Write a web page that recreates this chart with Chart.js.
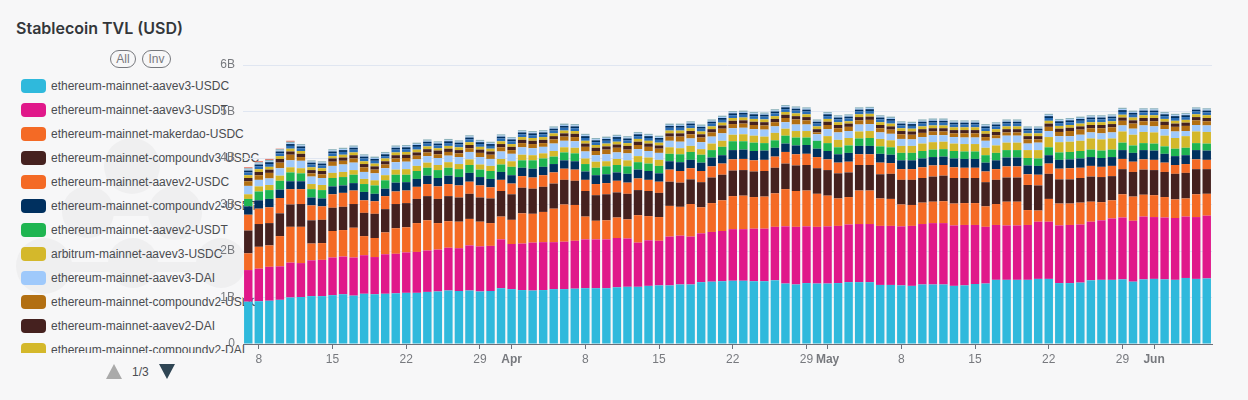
<!DOCTYPE html>
<html>
<head>
<meta charset="utf-8">
<script src="https://cdn.jsdelivr.net/npm/chart.js@4/dist/chart.umd.min.js"></script>
<style>
  html, body { margin: 0; padding: 0; background: #f7f7f8; }
  body { width: 1248px; height: 400px; position: relative; overflow: hidden; font-family: "Liberation Sans", sans-serif; }
  #title { position: absolute; left: 16px; top: 18px; font-family: Inter, sans-serif; font-size: 16px; font-weight: 600; color: #33363a; }
  #myChart { position: absolute; left: 0; top: 0; }
  .dot { position: absolute; border-radius: 50%; background: #efeff0; }
  .bar { position: absolute; background: #efeff0; }
  .pill { position: absolute; top: 50px; height: 16px; line-height: 16px; border: 1px solid #77797e; border-radius: 9px; font-size: 12px; color: #77797e; text-align: center; box-sizing: content-box; }
  #legend { position: absolute; left: 21px; top: 74px; width: 260px; height: 279px; overflow: hidden; }
  .item { height: 24px; display: flex; align-items: center; font-size: 12px; color: #4a4c50; white-space: nowrap; }
  .swatch { width: 25px; height: 14px; border-radius: 4px; margin-right: 5px; flex: none; }
  .up { position: absolute; left: 106px; top: 364px; border-left: 8px solid transparent; border-right: 8px solid transparent; border-bottom: 15px solid #aaaaaa; }
  .down { position: absolute; left: 159px; top: 364px; border-left: 8px solid transparent; border-right: 8px solid transparent; border-top: 15px solid #2f4554; }
  .page { position: absolute; left: 132px; top: 365px; font-size: 12px; color: #4a4c50; }
</style>
</head>
<body>
<div class="dot" style="left:104px;top:138px;width:56px;height:56px"></div>
<div class="dot" style="left:62px;top:186px;width:52px;height:52px"></div>
<div class="dot" style="left:148px;top:186px;width:54px;height:54px"></div>
<div class="dot" style="left:16px;top:238px;width:56px;height:56px"></div>
<div class="dot" style="left:108px;top:238px;width:50px;height:50px"></div>
<div class="dot" style="left:196px;top:238px;width:50px;height:50px"></div>
<div class="bar" style="left:60px;top:262px;width:160px;height:10px"></div>
<div class="bar" style="left:88px;top:206px;width:90px;height:10px"></div>
<div id="title">Stablecoin TVL (USD)</div>
<div class="pill" style="left:110px;width:24px">All</div>
<div class="pill" style="left:142px;width:27px">Inv</div>
<div id="legend"></div>
<div class="up"></div><div class="page">1/3</div><div class="down"></div>
<canvas id="myChart" width="1248" height="400"></canvas>
<script>
// dias desde el 7 de marzo hasta el 6 de junio
const categories = [
  '7','8','9','10','11','12','13','14','15','16','17','18','19','20','21','22','23','24','25','26','27','28','29','30','31',
  'Apr','2','3','4','5','6','7','8','9','10','11','12','13','14','15','16','17','18','19','20','21','22','23','24','25','26','27','28','29','30',
  'May','2','3','4','5','6','7','8','9','10','11','12','13','14','15','16','17','18','19','20','21','22','23','24','25','26','27','28','29','30','31',
  'Jun','2','3','4','5','6'
];
const shownTicks = ['8','15','22','29','Apr','May','Jun'];
const yTicks = ['0','1B','2B','3B','4B','5B','6B'];

const seriesNames = [
  'ethereum-mainnet-aavev3-USDC','ethereum-mainnet-aavev3-USDT','ethereum-mainnet-makerdao-USDC',
  'ethereum-mainnet-compoundv3-USDC','ethereum-mainnet-aavev2-USDC','ethereum-mainnet-compoundv2-USDT',
  'ethereum-mainnet-aavev2-USDT','arbitrum-mainnet-aavev3-USDC','ethereum-mainnet-aavev3-DAI',
  'ethereum-mainnet-compoundv2-USDC','ethereum-mainnet-aavev2-DAI','ethereum-mainnet-compoundv2-DAI',
  'page2-a','page2-b','page2-c','page2-d','page2-e'
];
const seriesColors = [
  '#2fb9dc','#e0188a','#f46a25','#45211f','#f46a25','#00305f','#1fb551','#d4b82b','#9fc9fb',
  '#b26f12','#45211f','#d4b82b','#2a6db5','#00305f','#9fc9fb','#8db3bc','#e8604c'
];

// valores en miles de millones
const aaveV3Usdc = [
  .91,.92,.93,.95,1.00,1.01,1.03,1.03,1.05,1.07,1.04,1.08,1.07,1.08,1.09,
  1.10,1.10,1.12,1.13,1.15,1.14,1.15,1.13,1.14,1.20,1.18,1.16,1.15,1.16,1.18,
  1.18,1.19,1.20,1.20,1.20,1.22,1.23,1.23,1.25,1.26,1.26,1.28,1.28,1.33,1.34,
  1.35,1.36,1.36,1.35,1.35,1.37,1.30,1.28,1.31,1.30,1.30,1.31,1.33,1.33,1.33,
  1.27,1.27,1.26,1.25,1.28,1.28,1.28,1.25,1.26,1.29,1.30,1.38,1.38,1.38,1.38,1.40,
  1.40,1.31,1.31,1.32,1.37,1.38,1.38,1.39,1.34,1.39,1.40,1.39,1.38,1.42,1.40,1.41
];
const aaveV3Usdt = [
  .68,.70,.73,.72,.75,.73,.77,.78,.81,.81,.82,.83,.80,.85,.85,
  .87,.88,.89,.90,.92,.92,.97,.97,.97,1.05,.97,1.00,1.03,1.03,1.01,
  1.02,1.03,1.05,1.05,1.05,1.06,1.04,.95,.98,.96,1.05,1.05,1.03,1.05,1.07,
  1.08,1.11,1.11,1.13,1.13,1.15,1.23,1.24,1.22,1.22,1.23,1.23,1.24,1.25,1.25,
  1.27,1.27,1.27,1.29,1.30,1.32,1.32,1.30,1.30,1.27,1.22,1.18,1.17,1.17,1.18,1.23,
  1.23,1.24,1.25,1.25,1.26,1.28,1.32,1.33,1.31,1.35,1.33,1.33,1.33,1.32,1.33,1.35
];
const makerUsdc = [
  .36,.47,.46,.65,.77,.78,.36,.36,.57,.57,.64,.41,.41,.47,.55,
  .54,.62,.65,.57,.57,.57,.57,.53,.49,.49,.52,.65,.62,.65,.72,
  .80,.77,.49,.40,.41,.44,.41,.59,.52,.51,.66,.62,.70,.56,.62,
  .66,.71,.72,.68,.69,.72,.80,.77,.77,.71,.66,.59,.59,.72,.72,
  .59,.58,.47,.45,.46,.46,.47,.47,.47,.47,.44,.45,.51,.51,.32,.24,
  .49,.47,.46,.47,.43,.39,.39,.50,.52,.47,.47,.44,.40,.39,.49,.47
];
const compoundV3Usdc = [
  .49,.49,.48,.49,.48,.49,.50,.50,.50,.50,.51,.50,.52,.50,.52,
  .52,.52,.52,.52,.54,.52,.54,.52,.53,.55,.55,.55,.54,.54,.54,
  .53,.52,.55,.55,.56,.54,.55,.54,.54,.52,.52,.52,.53,.54,.55,
  .55,.55,.55,.55,.55,.55,.55,.55,.55,.55,.55,.54,.53,.55,.55,
  .52,.54,.53,.54,.53,.54,.55,.55,.54,.54,.52,.52,.52,.52,.54,.54,
  .54,.52,.52,.53,.54,.54,.52,.54,.53,.54,.54,.54,.55,.55,.54,.53
];
const aaveV2Usdc = [
  .34,.33,.34,.33,.33,.32,.32,.29,.29,.30,.29,.27,.27,.28,.27,
  .27,.26,.26,.27,.26,.26,.26,.26,.24,.24,.23,.25,.24,.25,.24,
  .24,.24,.24,.24,.24,.25,.24,.25,.24,.24,.26,.25,.24,.24,.24,
  .24,.24,.24,.24,.24,.24,.25,.24,.24,.24,.23,.23,.23,.23,.23,
  .25,.23,.23,.23,.23,.24,.23,.23,.22,.22,.23,.23,.24,.24,.23,.23,
  .22,.23,.24,.22,.23,.22,.22,.22,.22,.22,.22,.20,.19,.19,.21,.20
];
const compoundV2Usdt = [
  .18,.18,.18,.18,.17,.17,.17,.17,.17,.16,.16,.18,.16,.16,.19,
  .18,.17,.18,.18,.18,.18,.19,.18,.18,.17,.18,.18,.19,.18,.18,
  .18,.18,.18,.19,.19,.18,.19,.19,.19,.18,.18,.19,.18,.18,.19,
  .18,.20,.20,.20,.20,.19,.18,.19,.19,.18,.18,.18,.19,.18,.18,
  .19,.18,.19,.19,.19,.18,.18,.19,.19,.19,.19,.19,.19,.19,.19,.19,
  .18,.19,.19,.20,.19,.19,.19,.19,.19,.20,.20,.19,.19,.19,.20,.20
];
const aaveV2Usdt = [
  .16,.19,.19,.19,.19,.17,.18,.18,.18,.18,.18,.17,.18,.18,.17,
  .16,.17,.17,.17,.17,.17,.17,.16,.17,.16,.18,.16,.18,.18,.16,
  .17,.17,.16,.16,.17,.16,.16,.16,.16,.16,.16,.17,.17,.17,.16,
  .18,.19,.18,.18,.16,.16,.17,.17,.16,.17,.17,.15,.16,.16,.17,
  .16,.16,.16,.16,.16,.16,.16,.16,.16,.16,.16,.16,.16,.16,.16,.16,
  .17,.16,.16,.16,.16,.16,.16,.16,.16,.15,.15,.16,.16,.16,.15,.15
];
const arbitrumUsdc = [
  .10,.11,.11,.11,.11,.11,.11,.11,.11,.11,.10,.11,.11,.11,.11,
  .12,.11,.11,.11,.12,.11,.12,.11,.11,.12,.12,.12,.11,.11,.12,
  .11,.12,.12,.13,.11,.13,.13,.13,.13,.13,.14,.13,.13,.12,.14,
  .13,.14,.15,.15,.14,.16,.15,.14,.14,0,.15,.16,.16,.15,.15,
  .16,.15,.15,.15,.16,.16,.16,.16,.16,.16,.16,.16,.16,.16,.17,.18,
  .22,.22,.22,.22,.24,.24,.24,.24,.23,.24,.24,.23,.23,.25,.25,.25
];
const aaveV3Dai = [
  .18,.14,.14,.16,.15,.16,.16,.15,.15,.16,.16,.15,.15,.15,.16,
  .16,.14,.14,.15,.14,.15,.16,.16,.15,.16,.16,.16,.15,.14,.16,
  .14,.14,.15,.14,.15,.14,.15,.15,.14,.15,.14,.14,.16,.15,.15,
  .16,.14,.14,.14,.15,.14,.14,.14,.14,.14,.15,.16,.15,.15,.15,
  .14,.14,.15,.14,.14,.15,.14,.14,.14,.14,.15,.15,.15,.15,.14,.16,
  .13,.13,.12,.13,.13,.13,.13,.13,.13,.14,.13,.14,.14,.11,.14,.14
];
const compoundV2Usdc = [
  .10,.10,.12,.12,.12,.08,.07,.08,.09,.08,.09,.10,.08,.08,.08,
  .08,.08,.08,.08,.08,.08,.08,.09,.09,.09,.08,.09,.09,.08,.09,
  .09,.09,.10,.09,.10,.10,.08,.09,.09,.09,.09,.11,.09,.10,.09,
  .10,.09,.09,.09,.09,.09,.09,.11,.09,.04,.09,.09,.09,.09,.09,
  .09,.09,.10,.10,.09,.08,.08,.08,.09,.09,.08,.07,.07,.07,.09,.07,
  .09,.09,.11,.11,.09,.11,.11,.10,.11,.09,.11,.09,.10,.11,.10,.09
];
const aaveV2Dai = [
  .07,.07,.07,.08,.07,.07,.07,.07,.07,.07,.07,.07,.07,.07,.07,
  .07,.07,.07,.08,.07,.07,.07,.07,.07,.07,.07,.07,.07,.07,.07,
  .07,.07,.07,.07,.07,.07,.08,.07,.07,.07,.07,.07,.07,.07,.07,
  .07,.07,.07,.07,.07,.07,.07,.07,.07,.07,.07,.07,.07,.07,.07,
  .07,.07,.07,.07,.08,.07,.07,.07,.07,.07,.07,.07,.07,.07,.07,.07,
  .07,.07,.07,.07,.07,.07,.07,.07,.07,.07,.07,.07,.07,.07,.07,.07
];
const compoundV2Dai = [
  .06,.06,.06,.06,.06,.06,.06,.06,.05,.06,.06,.06,.06,.06,.06,
  .06,.06,.06,.05,.06,.06,.06,.06,.06,.06,.06,.06,.06,.06,.06,
  .06,.06,.06,.06,.06,.06,.06,.06,.06,.06,.06,.06,.06,.06,.06,
  .06,.06,.06,.06,.06,.06,.06,.06,.06,.06,.06,.06,.05,.06,.06,
  .06,.06,.06,.06,.06,.06,.06,.06,.06,.06,.06,.06,.06,.06,.06,.06,
  .06,.06,.06,.06,.06,.06,.06,.06,.06,.06,.06,.06,.06,.06,.06,.06
];
const page2A = [
  .06,.06,.06,.06,.06,.06,.06,.06,.06,.06,.06,.06,.06,.05,.06,
  .06,.06,.06,.06,.06,.06,.06,.06,.06,.06,.06,.06,.06,.06,.06,
  .06,.06,.06,.06,.06,.06,.06,.06,.06,.06,.06,.06,.06,.06,.06,
  .06,.06,.06,.06,.06,.06,.06,.06,.06,.06,.06,.06,.06,.06,.06,
  .06,.06,.06,.06,.06,.06,.06,.06,.06,.06,.06,.06,.06,.06,.06,.06,
  .06,.06,.06,.06,.06,.06,.06,.06,.06,.06,.06,.06,.06,.06,.06,.06
];
const page2B = [
  .04,.04,.04,.04,.04,.04,.04,.04,.04,.04,.04,.04,.04,.04,.04,
  .04,.04,.04,.04,.04,.04,.04,.04,.04,.04,.04,.04,.04,.04,.04,
  .04,.04,.04,.04,.04,.04,.04,.04,.04,.04,.04,.04,.04,.04,.04,
  .04,.04,.04,.04,.04,.04,.04,.04,.04,.04,.04,.04,.04,.04,.04,
  .04,.04,.04,.04,.04,.04,.04,.04,.04,.04,.04,.04,.04,.04,.04,.04,
  .04,.04,.04,.04,.04,.04,.04,.04,.04,.04,.04,.04,.04,.04,.04,.04
];
const page2C = [
  .02,.02,.02,.02,.02,.02,.02,.02,.02,.02,.02,.02,.02,.02,.02,
  .02,.02,.02,.02,.02,.02,.02,.02,.02,.02,.02,.02,.02,.02,.02,
  .02,.02,.02,.02,.02,.02,.02,.02,.02,.02,.02,.02,.02,.02,.02,
  .02,.02,.02,.02,.02,.02,.02,.02,.02,.02,.02,.02,.02,.02,.02,
  .02,.02,.02,.02,.02,.02,.02,.02,.02,.02,.02,.02,.02,.02,.02,.02,
  .02,.02,.02,.02,.02,.02,.02,.02,.02,.02,.02,.02,.02,.02,.02,.02
];
const page2D = [
  .03,.03,.03,.03,.03,.03,.03,.03,.03,.03,.03,.03,.03,.03,.03,
  .03,.03,.03,.03,.03,.03,.03,.03,.03,.03,.03,.03,.03,.03,.03,
  .03,.03,.03,.03,.03,.03,.03,.03,.03,.03,.03,.03,.03,.03,.03,
  .03,.03,.03,.03,.03,.03,.03,.03,.03,.03,.03,.03,.03,.03,.03,
  .03,.03,.03,.03,.03,.03,.03,.03,.03,.03,.03,.03,.03,.03,.03,.03,
  .03,.03,.03,.03,.03,.03,.03,.03,.03,.03,.03,.03,.03,.03,.03,.03
];
const page2E = [.02,.02,.02,.01,.02];

const seriesValues = [
  aaveV3Usdc,aaveV3Usdt,makerUsdc,compoundV3Usdc,aaveV2Usdc,compoundV2Usdt,aaveV2Usdt,arbitrumUsdc,aaveV3Dai,
  compoundV2Usdc,aaveV2Dai,compoundV2Dai,page2A,page2B,page2C,page2D,page2E
];

// leyenda en html, como la original con paginas
const legend = document.getElementById('legend');
seriesNames.forEach((name, i) => {
  const item = document.createElement('div');
  item.className = 'item';
  item.innerHTML = '<span class="swatch" style="background:' + seriesColors[i] + '"></span>' + name;
  legend.appendChild(item);
});

const barra = document.getElementById('myChart').getContext('2d');
const graficaBar = new Chart(barra, {
  type: 'bar',
  data: {
    labels: categories,
    datasets: seriesNames.map((name, i) => ({
      label: name,
      data: seriesValues[i],
      backgroundColor: seriesColors[i],
      barPercentage: 0.8,
      categoryPercentage: 1
    }))
  },
  options: {
    responsive: false,
    animation: false,
    layout: { padding: { top: 65, right: 36 } },
    plugins: { legend: { display: false }, tooltip: { enabled: false } },
    scales: {
      x: {
        stacked: true,
        afterFit: (scale) => { scale.height = 56; },
        border: { color: '#6e7079' },
        grid: {
          offset: false,
          drawOnChartArea: false,
          tickLength: 5,
          tickColor: (ctx) => shownTicks.includes(categories[ctx.index]) ? '#6e7079' : 'transparent'
        },
        ticks: {
          autoSkip: false,
          maxRotation: 0,
          padding: 3,
          color: '#77797e',
          font: (ctx) => ({
            family: 'Liberation Sans',
            size: 12,
            weight: isNaN(categories[ctx.index]) ? 'bold' : 'normal'
          }),
          callback: (value, index) => shownTicks.includes(categories[index]) ? categories[index] : ''
        }
      },
      y: {
        stacked: true,
        min: 0,
        max: 6,
        afterFit: (scale) => { scale.width = 243; },
        border: { display: false },
        grid: { color: '#e0e6f1', drawTicks: false },
        ticks: {
          stepSize: 1,
          padding: 8,
          color: '#77797e',
          font: { family: 'Liberation Sans', size: 12 },
          callback: (value) => yTicks[value]
        }
      }
    }
  }
});
</script>
</body>
</html>
